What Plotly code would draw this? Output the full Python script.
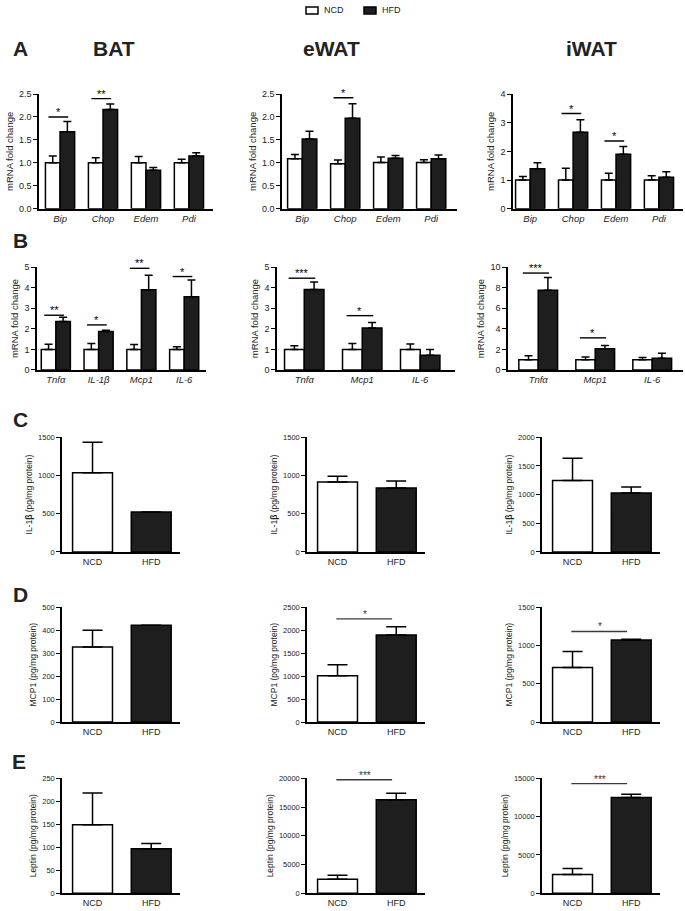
import plotly.graph_objects as go

W, H = 685, 911
FONT = "Liberation Sans Narrow, Arial Narrow, Liberation Sans, Arial, sans-serif"
BOLDFONT = "Liberation Sans, Arial, sans-serif"
NCD_COLOR = "white"
HFD_COLOR = "#1e1e1e"

# ---------------- data ----------------
groups = ["NCD", "HFD"]

A_genes = ["Bip", "Chop", "Edem", "Pdi"]
A_bat_ncd = [1.00, 1.00, 1.00, 1.00]
A_bat_ncd_sem = [0.15, 0.11, 0.14, 0.08]
A_bat_hfd = [1.68, 2.16, 0.84, 1.15]
A_bat_hfd_sem = [0.22, 0.12, 0.06, 0.07]
A_bat_sig = [(0, 2.00, "*"), (1, 2.40, "**")]

A_ewat_ncd = [1.09, 0.98, 1.01, 1.01]
A_ewat_ncd_sem = [0.09, 0.08, 0.12, 0.06]
A_ewat_hfd = [1.52, 1.97, 1.10, 1.09]
A_ewat_hfd_sem = [0.17, 0.32, 0.06, 0.08]
A_ewat_sig = [(1, 2.42, "*")]

A_iwat_ncd = [1.00, 1.00, 1.00, 1.00]
A_iwat_ncd_sem = [0.12, 0.41, 0.24, 0.15]
A_iwat_hfd = [1.39, 2.67, 1.90, 1.10]
A_iwat_hfd_sem = [0.21, 0.43, 0.27, 0.19]
A_iwat_sig = [(1, 3.32, "*"), (2, 2.36, "*")]

B_bat_genes = ["Tnfα", "IL-1β", "Mcp1", "IL-6"]
B_bat_ncd = [1.00, 1.00, 1.00, 1.00]
B_bat_ncd_sem = [0.25, 0.28, 0.24, 0.13]
B_bat_hfd = [2.35, 1.87, 3.90, 3.56]
B_bat_hfd_sem = [0.21, 0.06, 0.70, 0.81]
B_bat_sig = [(0, 2.66, "**"), (1, 2.19, "*"), (2, 4.94, "**"), (3, 4.54, "*")]

B_wat_genes = ["Tnfα", "Mcp1", "IL-6"]
B_ewat_ncd = [1.00, 1.00, 1.00]
B_ewat_ncd_sem = [0.18, 0.29, 0.26]
B_ewat_hfd = [3.91, 2.04, 0.72]
B_ewat_hfd_sem = [0.36, 0.27, 0.28]
B_ewat_sig = [(0, 4.46, "***"), (1, 2.64, "*")]

B_iwat_ncd = [1.00, 1.00, 1.00]
B_iwat_ncd_sem = [0.39, 0.27, 0.21]
B_iwat_hfd = [7.75, 2.05, 1.13]
B_iwat_hfd_sem = [1.24, 0.32, 0.49]
B_iwat_sig = [(0, 9.42, "***"), (1, 3.12, "*")]

C_bat = [1035, 522]
C_bat_sem = [400, 0]
C_ewat = [913, 835]
C_ewat_sem = [78, 91]
C_iwat = [1247, 1029]
C_iwat_sem = [385, 103]

D_bat = [327, 422]
D_bat_sem = [73, 0]
D_ewat = [1009, 1895]
D_ewat_sem = [237, 180]
D_ewat_sig = 2248
D_iwat = [713, 1072]
D_iwat_sem = [208, 9]
D_iwat_sig = 1184

E_bat = [149, 96.5]
E_bat_sem = [69, 11.5]
E_ewat = [2420, 16300]
E_ewat_sem = [690, 1100]
E_ewat_sig = 19770
E_iwat = [2443, 12514]
E_iwat_sem = [771, 429]
E_iwat_sig = 14314

# ---------------- layout helpers ----------------
fig = go.Figure()
layout_axes = {}
annotations = []
shapes = []


def ax_names(k):
    return ("xaxis" if k == 1 else f"xaxis{k}", "yaxis" if k == 1 else f"yaxis{k}",
            "x" if k == 1 else f"x{k}", "y" if k == 1 else f"y{k}")


def setup_axes(k, xpx, ypx, xrange, ymax, dtick, yfmt, tickvals, ticktext,
               ytitle, tick_size, title_size, xlab_size):
    xa, ya, _, _ = ax_names(k)
    layout_axes[xa] = dict(
        domain=[xpx[0] / W, xpx[1] / W], range=xrange, anchor=ax_names(k)[3],
        showline=True, linecolor="black", linewidth=2, ticks="",
        tickvals=tickvals, ticktext=ticktext, showgrid=False, zeroline=False,
        tickfont=dict(family=FONT, size=xlab_size, color="#222"), fixedrange=True)
    layout_axes[ya] = dict(
        domain=[1 - ypx[1] / H, 1 - ypx[0] / H], range=[0, ymax], anchor=ax_names(k)[2],
        showline=True, linecolor="black", linewidth=1.5, ticks="outside",
        ticklen=4, tickwidth=1.2, tickcolor="black", dtick=dtick, tick0=0,
        tickformat=yfmt, showgrid=False, zeroline=False,
        tickfont=dict(family=FONT, size=tick_size, color="#222"),
        title=dict(text=ytitle, font=dict(family=FONT, size=title_size, color="#222"),
                   standoff=4), fixedrange=True)


def err(sem):
    return dict(type="data", symmetric=False, array=sem, arrayminus=[0] * len(sem),
                color="black", thickness=1.5, width=4)


def gene_panel(k, xpx, ypx, xrange, ymax, dtick, yfmt, genes, ncd, ncd_sem, hfd, hfd_sem,
               sig):
    _, _, xr, yr = ax_names(k)
    xs = list(range(len(genes)))
    fig.add_trace(go.Bar(x=xs, y=ncd, name=groups[0], xaxis=xr, yaxis=yr,
                         marker=dict(color=NCD_COLOR, line=dict(color="black", width=1.5)),
                         error_y=err(ncd_sem), showlegend=False, offsetgroup="ncd"))
    fig.add_trace(go.Bar(x=xs, y=hfd, name=groups[1], xaxis=xr, yaxis=yr,
                         marker=dict(color=HFD_COLOR, line=dict(color="black", width=1.5)),
                         error_y=err(hfd_sem), showlegend=False, offsetgroup="hfd"))
    setup_axes(k, xpx, ypx, xrange, ymax, dtick, yfmt, xs,
               [f"<i>{g}</i>" for g in genes], "mRNA fold change", 9, 9.5, 9.5)
    for i, yv, lab in sig:
        shapes.append(dict(type="line", xref=xr, yref=yr, x0=i - 0.27, x1=i + 0.19,
                           y0=yv, y1=yv, line=dict(color="black", width=1.4)))
        annotations.append(dict(xref=xr, yref=yr, x=i - 0.04, y=yv, text=lab,
                                showarrow=False, yanchor="bottom", yshift=-3,
                                font=dict(family=BOLDFONT, size=11, color="black")))


def prot_panel(k, xpx, ypx, ymax, dtick, vals, sem, ytitle, sig=None, siglab=None):
    _, _, xr, yr = ax_names(k)
    xs = [0, 1]
    fig.add_trace(go.Bar(x=xs, y=vals, xaxis=xr, yaxis=yr, showlegend=False,
                         marker=dict(color=[NCD_COLOR, HFD_COLOR],
                                     line=dict(color="black", width=1.5)),
                         error_y=dict(type="data", symmetric=False, array=sem,
                                      arrayminus=[0, 0], color="black", thickness=1.5,
                                      width=10)))
    setup_axes(k, xpx, ypx, [-0.52, 1.49], ymax, dtick, "d", xs, groups, ytitle,
               7.5, 8.5, 9)
    if sig is not None:
        shapes.append(dict(type="line", xref=xr, yref=yr, x0=-0.02, x1=0.93,
                           y0=sig, y1=sig, line=dict(color="#3a3a3a", width=1.4)))
        annotations.append(dict(xref=xr, yref=yr, x=0.46, y=sig, text=siglab,
                                showarrow=False, yanchor="bottom", yshift=-3,
                                font=dict(family=BOLDFONT, size=10, color="#333")))


# Row A
ROW_A = (90, 206)
gene_panel(1, (39, 213), ROW_A, [-0.49, 3.56], 2.5, 0.5, ".1f", A_genes,
           A_bat_ncd, A_bat_ncd_sem, A_bat_hfd, A_bat_hfd_sem, A_bat_sig)
gene_panel(2, (282, 457), ROW_A, [-0.47, 3.6], 2.5, 0.5, ".1f", A_genes,
           A_ewat_ncd, A_ewat_ncd_sem, A_ewat_hfd, A_ewat_hfd_sem, A_ewat_sig)
gene_panel(3, (513, 683), ROW_A, [-0.40, 3.56], 4, 1, "d", A_genes,
           A_iwat_ncd, A_iwat_ncd_sem, A_iwat_hfd, A_iwat_hfd_sem, A_iwat_sig)
# Row B
ROW_B = (265, 369)
gene_panel(4, (37, 206), ROW_B, [-0.44, 3.51], 5, 1, "d", B_bat_genes,
           B_bat_ncd, B_bat_ncd_sem, B_bat_hfd, B_bat_hfd_sem, B_bat_sig)
gene_panel(5, (277, 455), ROW_B, [-0.47, 2.6], 5, 1, "d", B_wat_genes,
           B_ewat_ncd, B_ewat_ncd_sem, B_ewat_hfd, B_ewat_hfd_sem, B_ewat_sig)
gene_panel(6, (508, 683), ROW_B, [-0.53, 2.54], 10, 2, "d", B_wat_genes,
           B_iwat_ncd, B_iwat_ncd_sem, B_iwat_hfd, B_iwat_hfd_sem, B_iwat_sig)

COLS = [(62, 180), (307, 425), (542, 660)]
ROW_C = (437, 553)
ROW_D = (609, 725)
ROW_E = (782, 898)
il1b = "IL-1<b>β</b> (pg/mg protein)"
mcp = "MCP1 (pg/mg protein)"
lep = "Leptin (pg/mg protein)"
prot_panel(7, COLS[0], ROW_C, 1500, 500, C_bat, C_bat_sem, il1b)
prot_panel(8, COLS[1], ROW_C, 1500, 500, C_ewat, C_ewat_sem, il1b)
prot_panel(9, COLS[2], ROW_C, 2000, 500, C_iwat, C_iwat_sem, il1b)
prot_panel(10, COLS[0], ROW_D, 500, 100, D_bat, D_bat_sem, mcp)
prot_panel(11, COLS[1], ROW_D, 2500, 500, D_ewat, D_ewat_sem, mcp, D_ewat_sig, "*")
prot_panel(12, COLS[2], ROW_D, 1500, 500, D_iwat, D_iwat_sem, mcp, D_iwat_sig, "*")
prot_panel(13, COLS[0], ROW_E, 250, 50, E_bat, E_bat_sem, lep)
prot_panel(14, COLS[1], ROW_E, 20000, 5000, E_ewat, E_ewat_sem, lep, E_ewat_sig, "***")
prot_panel(15, COLS[2], ROW_E, 15000, 5000, E_iwat, E_iwat_sem, lep, E_iwat_sig, "***")

# Panel letters and column titles
for lab, px, py in [("A", 20, 44), ("B", 20, 238), ("C", 20, 419), ("D", 20, 596), ("E", 19, 765)]:
    annotations.append(dict(xref="paper", yref="paper", x=px / W, y=1 - py / H, text=f"<b>{lab}</b>",
                            showarrow=False, xanchor="center", yanchor="middle",
                            font=dict(family=BOLDFONT, size=21, color="#222")))
for lab, px in [("BAT", 114), ("eWAT", 331), ("iWAT", 591)]:
    annotations.append(dict(xref="paper", yref="paper", x=px / W, y=1 - 44 / H, text=f"<b>{lab}</b>",
                            showarrow=False, xanchor="center", yanchor="middle",
                            font=dict(family=BOLDFONT, size=21, color="#222")))

# Legend (key swatches + labels)
for name, color, x0 in [(groups[0], NCD_COLOR, 306), (groups[1], HFD_COLOR, 364)]:
    shapes.append(dict(type="rect", xref="paper", yref="paper",
                       x0=x0 / W, x1=(x0 + 12) / W, y0=1 - 9 / H, y1=1 - 2 / H,
                       fillcolor=color, line=dict(color="black", width=1.5)))
    annotations.append(dict(xref="paper", yref="paper", x=(x0 + 16) / W, y=1 - 5.5 / H,
                            text=name, showarrow=False, xanchor="left", yanchor="middle",
                            font=dict(family=FONT, size=9, color="#222")))

fig.update_layout(
    width=W, height=H, margin=dict(l=0, r=0, t=0, b=0),
    paper_bgcolor="white", plot_bgcolor="white",
    barmode="group", bargap=0.32, bargroupgap=0,
    showlegend=False,
    annotations=annotations, shapes=shapes,
    **layout_axes,
)

fig.write_html("out.html", config={"displayModeBar": False},
               post_script="document.body.style.margin='0px';")
